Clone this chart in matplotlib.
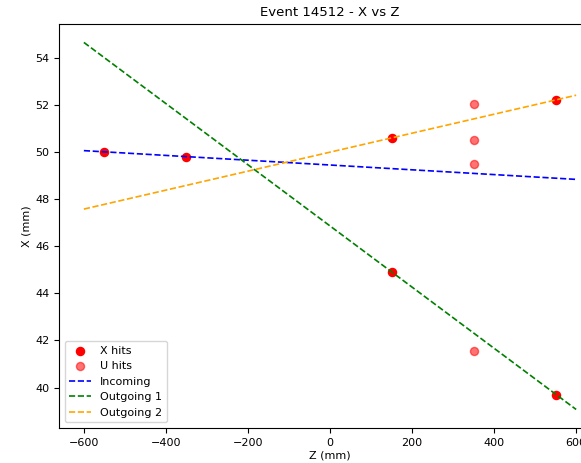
import matplotlib
matplotlib.use('Agg')
import matplotlib.pyplot as plt
import numpy as np

plt.rc('font', size=8)
plt.rc('axes', titlesize=9.5, labelsize=8)
plt.rc('xtick', labelsize=8)
plt.rc('ytick', labelsize=8)
plt.rc('legend', fontsize=8)

# hits
x_hits_z = [-550, -350, 150, 150, 550, 550]
x_hits_x = [50.0, 49.78, 50.57, 44.9, 52.2, 39.7]
u_hits_z = [350, 350, 350, 350]
u_hits_x = [52.03, 50.49, 49.49, 41.53]

# fitted tracks, evaluated at the ends of the detector
z_track = [-600, 600]
incoming_x = [50.05, 48.83]
outgoing1_x = [54.64, 39.07]
outgoing2_x = [47.57, 52.40]

fig = plt.figure(figsize=(5.81, 4.63), dpi=100)
ax = fig.add_axes([0.102, 0.076, 0.932, 0.872])

ax.scatter(x_hits_z, x_hits_x, color='red', s=34, label='X hits')
ax.scatter(u_hits_z, u_hits_x, color='red', alpha=0.55, s=34, label='U hits')
ax.plot(z_track, incoming_x, '--', color='blue', lw=1.2, label='Incoming')
ax.plot(z_track, outgoing1_x, '--', color='green', lw=1.2, label='Outgoing 1')
ax.plot(z_track, outgoing2_x, '--', color='orange', lw=1.2, label='Outgoing 2')

ax.set_title('Event 14512 - X vs Z')
ax.set_xlabel('Z (mm)', labelpad=2)
ax.set_ylabel('X (mm)', labelpad=3)
ax.legend(loc='lower left')

fig.savefig('out.png', dpi=100)
